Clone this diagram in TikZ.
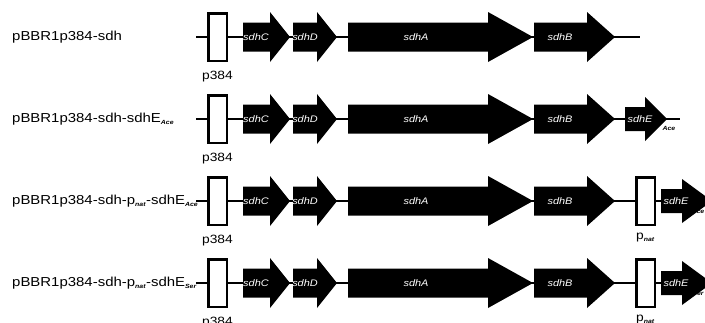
\documentclass[tikz,border=0pt]{standalone}
\usepackage{fontspec}
\setmainfont{Liberation Sans}[FakeStretch=1.15]

% gene arrow: name, start, head start, tip, row, label x, label
\newcommand{\bodyh}{14.5}
\newcommand{\headh}{25}
\newcommand{\gene}[7]{%
  \fill (#2,#5-\bodyh) -- (#3,#5-\bodyh) -- (#3,#5-\headh) -- (#4,#5)
    -- (#3,#5+\headh) -- (#3,#5+\bodyh) -- (#2,#5+\bodyh) -- cycle;
  \node[genetext] (#1) at (#6,#5) {#7};}
\newcommand{\subtag}[1]{\textsubscript{\fontsize{6}{6}\selectfont\bfseries\itshape #1}}

\begin{document}
\begin{tikzpicture}[x=1pt, y=-1pt,
    backbone/.style={line width=2.5pt},
    promoter/.style={draw, fill=white, line width=2.5pt, minimum width=18.5pt, minimum height=47.5pt, inner sep=0pt},
    genetext/.style={text=white, font=\fontsize{9.5}{10}\selectfont\itshape, inner sep=0pt},
    plabel/.style={font=\fontsize{12}{14}\selectfont, inner sep=0pt},
    rowlabel/.style={anchor=west, font=\fontsize{13}{15}\selectfont, inner sep=0pt},
    tag/.style={font=\fontsize{6}{6}\selectfont\bfseries\itshape, inner sep=0pt}]
    \useasboundingbox (0,0) rectangle (705,322);
    \clip (0,0) rectangle (705,322);

    % row names
    \node[rowlabel] (name-1) at (12,37) {pBBR1p384-sdh};
    \node[rowlabel] (name-2) at (12,119) {pBBR1p384-sdh-sdhE\subtag{Ace}};
    \node[rowlabel] (name-3) at (12,201) {pBBR1p384-sdh-p\subtag{nat}-sdhE\subtag{Ace}};
    \node[rowlabel] (name-4) at (12,283) {pBBR1p384-sdh-p\subtag{nat}-sdhE\subtag{Ser}};

    % common part of every construct
    \foreach \r/\y/\e in {1/37/640, 2/119/680, 3/201/710, 4/283/710} {
        \coordinate (start-\r) at (196,\y);
        \coordinate (end-\r) at (\e,\y);
        \draw[backbone] (start-\r) -- (end-\r);

        \node[promoter] (p384-\r) at (217.5,\y) {};
        \node[plabel] (p384lab-\r) at (217.5,\y+40) {p384};

        \gene{sdhC-\r}{243}{270}{290}{\y}{256}{sdhC}
        \gene{sdhD-\r}{293}{317}{337}{\y}{305}{sdhD}
        \gene{sdhA-\r}{348}{488}{533}{\y}{416}{sdhA}
        \gene{sdhB-\r}{534}{587}{615}{\y}{560}{sdhB}
    }

    % extra sdhE genes
    \begin{scope}
        \renewcommand{\bodyh}{12}
        \renewcommand{\headh}{22}
        \gene{sdhE-2}{625}{645}{667}{119}{640}{sdhE}
        \node[tag] (ace-2) at (669,128) {Ace};

        \node[promoter] (pnat-3) at (645.5,201) {};
        \node[plabel] (pnatlab-3) at (645.5,238) {p\subtag{nat}};
        \gene{sdhE-3}{661}{682}{712}{201}{676}{sdhE}
        \node[tag] (ace-3) at (698,211) {Ace};

        \node[promoter] (pnat-4) at (645.5,283) {};
        \node[plabel] (pnatlab-4) at (645.5,320) {p\subtag{nat}};
        \gene{sdhE-4}{661}{682}{712}{283}{676}{sdhE}
        \node[tag] (ser-4) at (698,293) {Ser};
    \end{scope}
\end{tikzpicture}
\end{document}
